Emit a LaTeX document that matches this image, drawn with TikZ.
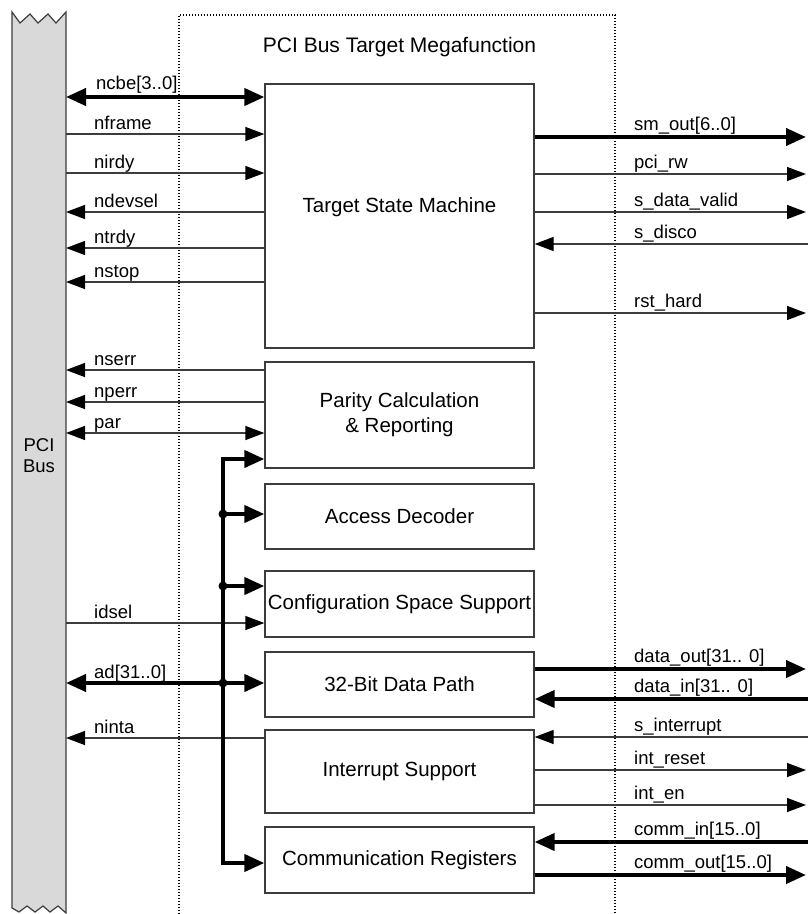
\documentclass[tikz,border=0pt]{standalone}
\usepackage{fontspec}
\setmainfont{Liberation Sans}
\usetikzlibrary{arrows.meta}
\definecolor{busgray}{RGB}{217,217,217}
\definecolor{edgegray}{RGB}{60,60,60}
\tikzset{
  tipT/.tip={Triangle[length=19pt,width=14pt,color=black]},
  tipK/.tip={Triangle[length=20pt,width=17pt,color=black]},
  blk/.style={draw=edgegray, line width=1.3pt, fill=white, minimum width=269pt, inner sep=0pt},
  blktext/.style={font=\fontsize{20.5}{25}\selectfont, align=center, inner sep=0pt},
  thinln/.style={draw=edgegray, line width=1.3pt},
  thickln/.style={draw=black, line width=4pt},
  lab/.style={anchor=base west, inner sep=0pt, font=\fontsize{18.5}{22}\selectfont},
  dotln/.style={draw=black, line width=1.2pt, dash pattern=on 1.4pt off 1.6pt},
  junc/.style={circle, fill=black, minimum size=9pt, inner sep=0pt},
}
\begin{document}
\begin{tikzpicture}[x=1pt,y=-1pt]
\useasboundingbox (0,0) rectangle (808,914);

% PCI bus strip
\draw[draw=edgegray, line width=1.2pt, fill=busgray]
  (12,12) -- (20,23) -- (30,14) -- (38,23) -- (48,14) -- (56,23) -- (66,12)
  -- (66,913) -- (58,906) -- (50,912) -- (43,906) -- (35,912) -- (27,906) -- (19,912) -- (12,908) -- cycle;
\node[blktext, font=\fontsize{18.5}{21}\selectfont] (pcilbl) at (39,456) {PCI\\Bus};

% megafunction outline
\draw[dotln] (179,914) -- (179,15) -- (615,15) -- (615,914);
\node[blktext, font=\fontsize{21}{25}\selectfont] (title) at (399.5,47) {PCI Bus Target Megafunction};

% blocks
\node[blk, minimum height=264pt] (tsm) at (399.5,216) {};
\node[blktext] (tsmtext) at (399.5,207) {Target State Machine};
\node[blk, minimum height=106pt, blktext] (par) at (399.5,415) {Parity Calculation\\\& Reporting};
\node[blk, minimum height=65pt, blktext] (acc) at (399.5,516.5) {Access Decoder};
\node[blk, minimum height=66pt, blktext] (cfg) at (399.5,604) {Configuration Space Support};
\node[blk, minimum height=65pt, blktext] (dp) at (399.5,684.5) {32-Bit Data Path};
\node[blk, minimum height=83pt, blktext] (intr) at (399.5,771.5) {Interrupt Support};
\node[blk, minimum height=66pt, blktext] (comm) at (399.5,860) {Communication Registers};

% left side: bus -> block (thin)
\foreach \id/\yy/\txt/\bk in {nframe/134/nframe/tsm, nirdy/173/nirdy/tsm, idsel/623/idsel/cfg}{
  \coordinate (L-\id) at (66,\yy);
  \draw[thinln,-tipT] (L-\id) -- (L-\id -| \bk.west);
  \node[lab] (t-\id) at (94,\yy-5) {\txt};
}
% left side: block -> bus (thin)
\foreach \id/\yy/\txt/\bk in {ndevsel/212/ndevsel/tsm, ntrdy/248/ntrdy/tsm, nstop/282/nstop/tsm,
    nserr/370/nserr/par, nperr/402/nperr/par, ninta/738/ninta/intr}{
  \coordinate (L-\id) at (66,\yy);
  \draw[thinln,-tipT] (L-\id -| \bk.west) -- (L-\id);
  \node[lab] (t-\id) at (94,\yy-5) {\txt};
}
% par (bidirectional thin)
\coordinate (L-par) at (66,433);
\draw[thinln,tipT-tipT] (L-par) -- (L-par -| par.west);
\node[lab] (t-par) at (94,428) {par};
% ncbe (bidirectional thick)
\coordinate (L-ncbe) at (66,97);
\draw[thickln,tipK-tipK] (L-ncbe) -- (L-ncbe -| tsm.west);
\node[lab] (t-ncbe) at (96,89.5) {ncbe[3..0]};

% internal address/data bus
\coordinate (bt) at (223,459);
\coordinate (bb) at (223,863);
\draw[thickln,tipK-tipK,line join=miter] (bt -| par.west) -- (bt) -- (bb) -- (bb -| comm.west);
\coordinate (J1) at (223,514);
\coordinate (J2) at (223,586);
\coordinate (J3) at (223,683);
\draw[thickln,-tipK] (J1) -- (J1 -| acc.west);
\draw[thickln,-tipK] (J2) -- (J2 -| cfg.west);
\coordinate (L-ad) at (66,683);
\draw[thickln,tipK-tipK] (L-ad) -- (L-ad -| dp.west);
\node[lab] (t-ad) at (94,678) {ad[31..0]};
\node[junc] (j1) at (J1) {};
\node[junc] (j2) at (J2) {};
\node[junc] (j3) at (J3) {};

% right side: block -> out (thin)
\foreach \id/\yy/\txt/\bk in {pcirw/174/pci\_rw/tsm, sdv/212/s\_data\_valid/tsm, rsth/313/rst\_hard/tsm,
    intreset/770/int\_reset/intr, inten/805/int\_en/intr}{
  \coordinate (R-\id) at (806,\yy);
  \draw[thinln,-tipT] (R-\id -| \bk.east) -- (R-\id);
  \node[lab] (t-\id) at (634,\yy-6) {\txt};
}
% right side: in -> block (thin)
\foreach \id/\yy/\txt/\bk in {sdisco/244/s\_disco/tsm, sint/737/s\_interrupt/intr}{
  \coordinate (R-\id) at (808,\yy);
  \draw[thinln,-tipT] (R-\id) -- (R-\id -| \bk.east);
  \node[lab] (t-\id) at (634,\yy-6) {\txt};
}
% right side: thick outputs
\foreach \id/\yy/\txt/\bk in {smout/137/{sm\_out[6..0]}/tsm, dout/669/{data\_out[31.. 0]}/dp, cout/875/{comm\_out[15..0]}/comm}{
  \coordinate (R-\id) at (806,\yy);
  \draw[thickln,-tipK] (R-\id -| \bk.east) -- (R-\id);
  \node[lab] (t-\id) at (634,\yy-7) {\txt};
}
% right side: thick inputs
\foreach \id/\yy/\txt/\bk in {din/699/{data\_in[31.. 0]}/dp, cin/842/{comm\_in[15..0]}/comm}{
  \coordinate (R-\id) at (808,\yy);
  \draw[thickln,-tipK] (R-\id) -- (R-\id -| \bk.east);
  \node[lab] (t-\id) at (634,\yy-7) {\txt};
}
\end{tikzpicture}
\end{document}
